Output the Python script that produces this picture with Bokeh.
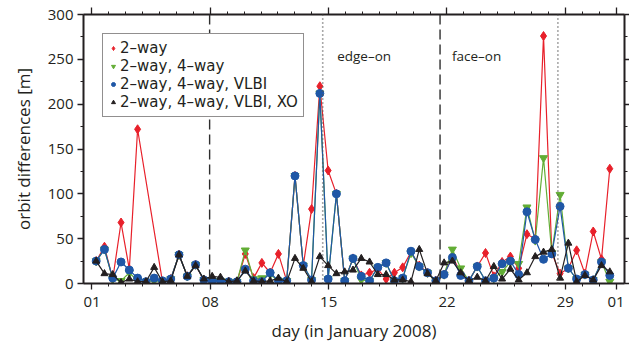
from bokeh.plotting import figure
from bokeh.models import Range1d, FixedTicker, LinearAxis, Legend, LegendItem, Span, Label
from bokeh.embed import file_html
from bokeh.resources import INLINE

# time of each arc (day of January 2008)
day = [1.25, 1.74, 2.23, 2.72, 3.21, 3.70, 4.19, 4.68, 5.17, 5.66,
       6.15, 6.64, 7.13, 7.62, 8.11, 8.60, 9.09, 9.58, 10.07, 10.56,
       11.05, 11.54, 12.03, 12.52, 13.01, 13.50, 13.99, 14.48, 14.97, 15.46,
       15.95, 16.44, 16.93, 17.42, 17.91, 18.40, 18.89, 19.38, 19.87, 20.36,
       20.85, 21.34, 21.83, 22.32, 22.81, 23.30, 23.79, 24.28, 24.77, 25.26,
       25.75, 26.24, 26.73, 27.22, 27.71, 28.20, 28.69, 29.18, 29.67, 30.16,
       30.65, 31.14, 31.63]

two_way = [25, 41, 5, 68, 16, 172, None, None, 2, 5,
           32, 8, 21, 3, 2, 2, 2, 2, 33, 6,
           23, 12, 33, 3, 120, 20, 83, 220, 126, 100,
           3, 28, 9, 12, 16, 5, 12, 18, 35, 20,
           12, 3, 10, 30, 12, 3, 19, 34, 8, 24,
           30, 17, 55, 50, 276, 34, 11, 17, 37, 11,
           58, 27, 128]

two_four = [25, 38, 5, 3, 12, 3, 2, 3, 2, 5,
            32, 8, 21, 4, 3, 3, 2, 2, 37, 5,
            6, 10, 3, 3, 120, 20, 4, 212, 5, 100,
            3, 28, 4, 3, 18, 23, 3, 6, 34, 19,
            12, 3, 10, 38, 17, 3, 19, 3, 6, 13,
            24, 22, 85, 48, 140, 34, 99, 17, 5, 10,
            4, 24, 2]

two_four_vlbi = [25, 38, 6, 24, 15, 6, 2, 6, 3, 5,
                 32, 8, 21, 4, 3, 3, 2, 2, 16, 3,
                 2, 12, 3, 3, 120, 20, 4, 212, 5, 100,
                 3, 28, 8, 3, 18, 23, 3, 6, 36, 19,
                 12, 3, 10, 29, 9, 3, 19, 3, 6, 22,
                 25, 10, 80, 49, 27, 33, 86, 17, 5, 10,
                 4, 24, 9]

two_four_vlbi_xo = [25, 11, 10, 1, 5, 2, 2, 18, 2, 3,
                    32, 8, 20, 5, 8, 7, 2, 3, 14, 3,
                    2, 3, 6, 2, 28, 17, 2, 30, 20, 11,
                    13, 15, 28, 24, 10, 10, 4, 4, 2, 38,
                    11, 3, 23, 25, 12, 3, 7, 3, 19, 5,
                    16, 4, 12, 30, 35, 38, 6, 45, 2, 9,
                    4, 20, 13]

labels = ["2\u2013way", "2\u2013way, 4\u2013way", "2\u2013way, 4\u2013way, VLBI",
          "2\u2013way, 4\u2013way, VLBI, XO"]

x_ticks = [1, 8, 15, 22, 29, 32]
x_tick_labels = ["01", "08", "15", "22", "29", "01"]
y_ticks = [0, 50, 100, 150, 200, 250, 300]

dashed_days = [7.96, 21.59]
dotted_days = [14.65, 28.56]
annotations = [("edge\u2013on", 17.1), ("face\u2013on", 23.75)]

FONT = "Open Sans"
LEG_FONT = "DejaVu Sans"
AX = "#231f20"

p = figure(width=629, height=344, x_range=Range1d(0.5, 32.5), y_range=Range1d(0, 300),
           output_backend="svg", toolbar_location=None,
           min_border_left=83, min_border_right=3, min_border_top=14, min_border_bottom=55)
p.outline_line_color = None
p.xgrid.visible = False
p.ygrid.visible = False
p.xaxis.visible = False
p.yaxis.visible = False

xt = FixedTicker(ticks=x_ticks, minor_ticks=list(range(1, 33)))
yt = FixedTicker(ticks=y_ticks, minor_ticks=list(range(0, 301, 25)))

def style(ax, show_labels):
    ax.axis_line_width = 2
    ax.axis_line_color = AX
    ax.major_tick_line_color = AX
    ax.minor_tick_line_color = AX
    ax.major_tick_line_width = 1.3
    ax.minor_tick_line_width = 1
    ax.major_tick_in = 0
    ax.minor_tick_in = 0
    ax.major_tick_out = 6
    ax.minor_tick_out = 3
    if show_labels:
        ax.major_label_text_font = FONT
        ax.major_label_text_font_size = "15px"
        ax.major_label_text_color = AX
        ax.axis_label_text_font = FONT
        ax.axis_label_text_font_size = "17px"
        ax.axis_label_text_font_style = "normal"
        ax.axis_label_text_color = AX
    else:
        ax.major_label_text_font_size = "0px"
        ax.major_label_standoff = 0

bottom = LinearAxis(ticker=xt, axis_label="day (in January 2008)")
bottom.major_label_overrides = {t: l for t, l in zip(x_ticks, x_tick_labels)}
style(bottom, True)
bottom.major_label_standoff = 7
bottom.axis_label_standoff = 9
p.add_layout(bottom, "below")

left = LinearAxis(ticker=yt, axis_label="orbit differences [m]")
style(left, True)
left.major_label_standoff = 4
left.axis_label_standoff = 10
p.add_layout(left, "left")

top = LinearAxis(ticker=xt)
top.major_label_overrides = {t: "" for t in x_ticks}
style(top, False)
top.major_tick_out = 7
p.add_layout(top, "above")

right = LinearAxis(ticker=yt)
right.major_label_overrides = {t: "" for t in y_ticks}
style(right, False)
right.major_tick_out = 5
p.add_layout(right, "right")

for d in dashed_days:
    p.add_layout(Span(location=d, dimension="height", line_color="#2e2e2e",
                      line_width=1.4, line_dash="10 5"))
for d in dotted_days:
    p.add_layout(Span(location=d, dimension="height", line_color="#555555",
                      line_width=1.6, line_dash="1 3"))

for txt, xd in annotations:
    p.add_layout(Label(x=xd, y=254, text=txt, text_align="center", text_baseline="middle",
                       text_font=FONT, text_font_size="13.5px", text_color=AX))

RED, GREEN, BLUE, BLACK = "#e8202a", "#62ad35", "#1f57a6", "#231f20"

rd = [d for d, v in zip(day, two_way) if v is not None]
rv = [v for v in two_way if v is not None]

p.line(rd, rv, line_color=RED, line_width=1.2)
r_red = p.scatter(rd, rv, marker="diamond", size=9, fill_color=RED, line_color=RED)

p.line(day, two_four, line_color=GREEN, line_width=1.2)
r_green = p.scatter(day, two_four, marker="inverted_triangle", size=8, fill_color=GREEN, line_color=GREEN)

p.line(day, two_four_vlbi, line_color=BLUE, line_width=1.2)
r_blue = p.scatter(day, two_four_vlbi, marker="circle", size=8, fill_color=BLUE, line_color=BLUE)

p.line(day, two_four_vlbi_xo, line_color=BLACK, line_width=1.2)
r_black = p.scatter(day, two_four_vlbi_xo, marker="triangle", size=7, fill_color=BLACK, line_color=BLACK)

legend = Legend(items=[LegendItem(label=labels[0], renderers=[r_red]),
                       LegendItem(label=labels[1], renderers=[r_green]),
                       LegendItem(label=labels[2], renderers=[r_blue]),
                       LegendItem(label=labels[3], renderers=[r_black])],
                location="top_left", margin=19, padding=5, spacing=0,
                label_text_font=LEG_FONT, label_text_font_size="15px", label_text_color=AX,
                label_height=16, glyph_width=10, glyph_height=16, label_standoff=2,
                border_line_color=AX, border_line_width=1.2, background_fill_alpha=1)
p.add_layout(legend)

open("out.html", "w").write(file_html(p, INLINE))
